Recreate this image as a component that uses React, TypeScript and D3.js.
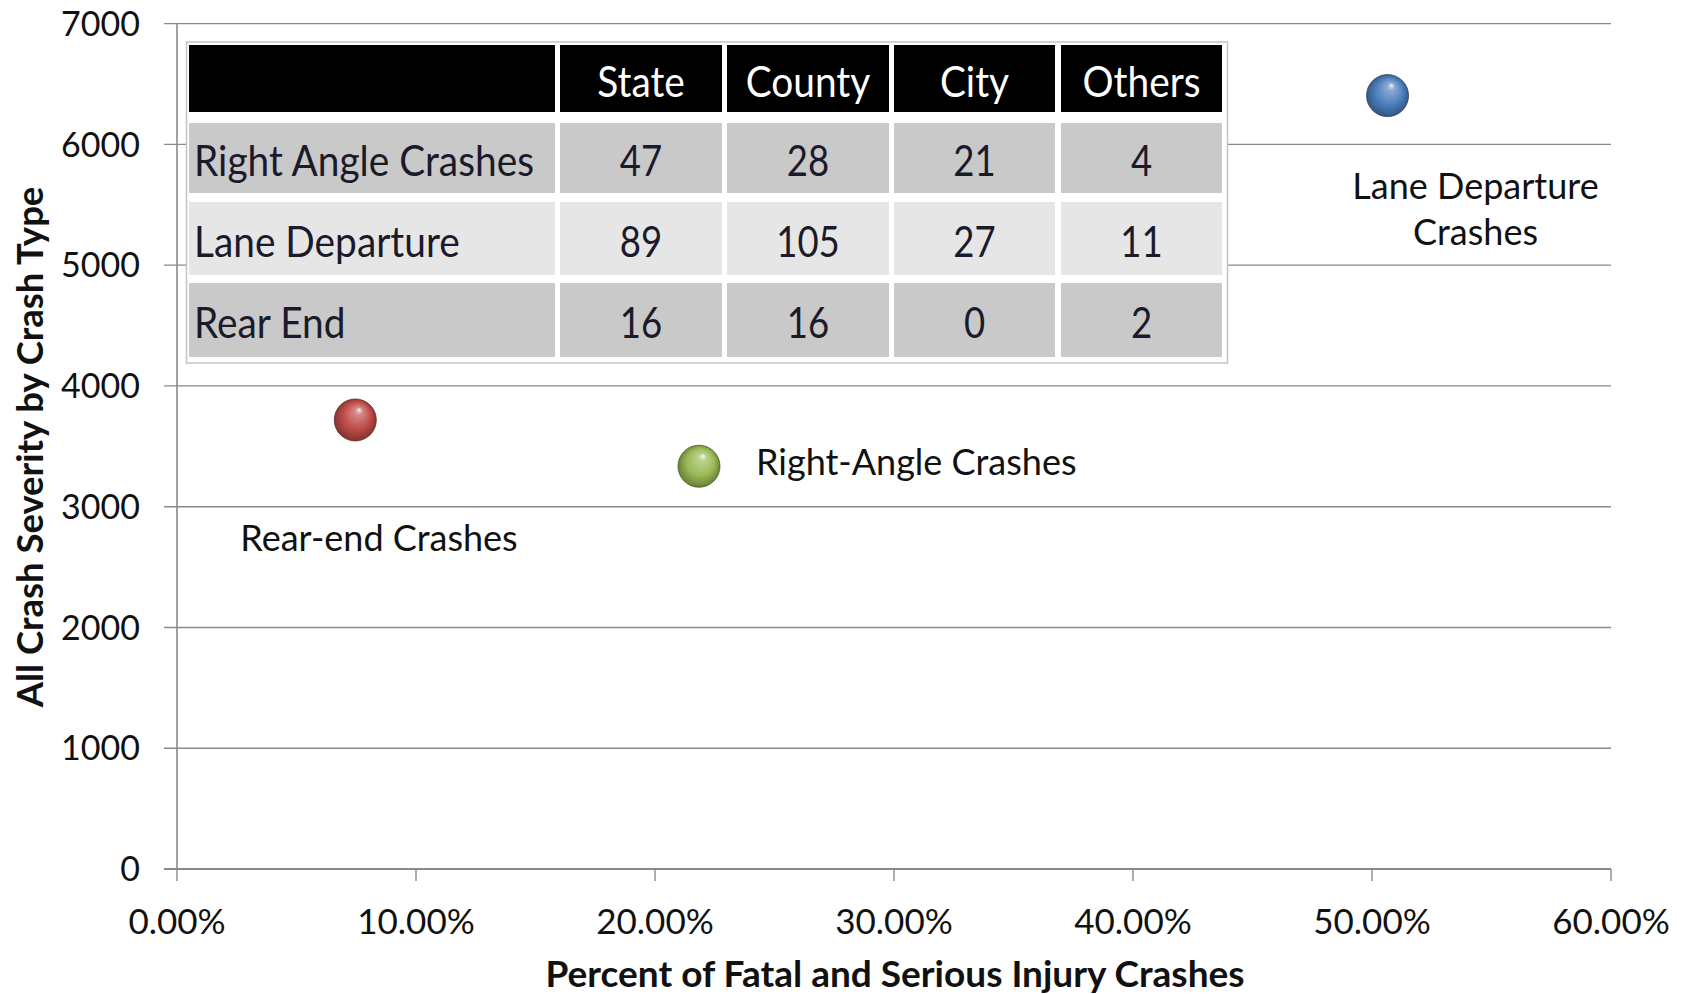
import React from "react";
import * as d3 from "d3";

// ---------- data ----------
const seriesNames = ["Lane Departure Crashes", "Rear-end Crashes", "Right-Angle Crashes"];
const xPercent = [0.5065, 0.0746, 0.2184];
const yCount = [6404, 3718, 3335];
const seriesColors = ["#4a7ebb", "#be4b48", "#98b954"];

const yTicks = [0, 1000, 2000, 3000, 4000, 5000, 6000, 7000];
const xTicks = [0, 0.1, 0.2, 0.3, 0.4, 0.5, 0.6];

const tableHeaders = ["", "State", "County", "City", "Others"];
const tableRows = ["Right Angle Crashes", "Lane Departure", "Rear End"];
const stateVals = [47, 89, 16];
const countyVals = [28, 105, 16];
const cityVals = [21, 27, 0];
const othersVals = [4, 11, 2];

const xTitle = "Percent of Fatal and Serious Injury Crashes";
const yTitle = "All Crash Severity by Crash Type";

// ---------- layout ----------
const W = 1684;
const H = 994;
const plot = { left: 177, right: 1611, top: 23.6, bottom: 869 };
const FONT = "Lato, 'Open Sans', sans-serif";
const GRID = "#8a8a8a";

const x = d3.scaleLinear().domain([0, 0.6]).range([plot.left, plot.right]);
const y = d3.scaleLinear().domain([0, 7000]).range([plot.bottom, plot.top]);
const fmtPct = d3.format(".2%");

// table geometry
const tbl = { left: 186.5, top: 42, right: 1227.5, bottom: 363 };
const colEdges = [
  [189, 555],
  [560, 722],
  [727, 889],
  [894, 1055],
  [1061, 1222],
];
const rowEdges = [
  [45, 112],
  [123, 193],
  [202, 275],
  [283, 357],
];
const rowFills = ["#000000", "#c9c9c9", "#e6e6e6", "#c9c9c9"];

// label placement (relative to point, in px)
const labelSpec = [
  { lines: ["Lane Departure", "Crashes"], dx: 88, dy: 90, anchor: "middle" },
  { lines: ["Rear-end Crashes"], dx: -115, dy: 118, anchor: "start" },
  { lines: ["Right-Angle Crashes"], dx: 57, dy: -4, anchor: "start" },
];

export default function App() {
  const tableCols = [stateVals, countyVals, cityVals, othersVals];
  const sxText = 0.925;
  const sxNum = 0.87;
  const tFont = 42;
  return (
    <svg
      width={W}
      height={H}
      style={{ position: "absolute", left: 0, top: 0, background: "#fff" }}
      fontFamily={FONT}
    >
      <defs>
        {seriesColors.map((c, i) => {
          const col = d3.color(c)!;
          return (
            <radialGradient key={i} id={`ball${i}`} cx="0.5" cy="0.5" r="0.55" fx="0.6" fy="0.25">
              <stop offset="0%" stopColor={d3.interpolateRgb(c, "#ffffff")(0.9)} />
              <stop offset="16%" stopColor={d3.interpolateRgb(c, "#ffffff")(0.35)} />
              <stop offset="60%" stopColor={c} />
              <stop offset="100%" stopColor={col.darker(1.3).formatHex()} />
            </radialGradient>
          );
        })}
      </defs>

      {/* grid lines */}
      {yTicks.map((t) => (
        <line
          key={`g${t}`}
          x1={plot.left - 13}
          x2={plot.right}
          y1={y(t)}
          y2={y(t)}
          stroke={GRID}
          strokeWidth={t === 0 ? 2.2 : 1.4}
        />
      ))}
      {/* y axis */}
      <line x1={plot.left} x2={plot.left} y1={plot.top} y2={plot.bottom} stroke={GRID} strokeWidth={1.6} />
      {/* x ticks */}
      {xTicks.map((t) => (
        <line key={`xt${t}`} x1={x(t)} x2={x(t)} y1={plot.bottom} y2={plot.bottom + 12} stroke={GRID} strokeWidth={1.4} />
      ))}

      {/* y tick labels */}
      {yTicks.map((t) => (
        <text key={`yl${t}`} x={140} y={y(t)} dy="0.36em" textAnchor="end" fontSize={34} fill="#111">
          {t}
        </text>
      ))}
      {/* x tick labels */}
      {xTicks.map((t) => (
        <text key={`xl${t}`} x={x(t)} y={921} dy="0.36em" textAnchor="middle" fontSize={35} fill="#111">
          {fmtPct(t)}
        </text>
      ))}

      {/* axis titles */}
      <text x={895} y={987} textAnchor="middle" fontSize={37} fontWeight={700} fill="#111">
        {xTitle}
      </text>
      <text
        transform={`translate(43, 447) rotate(-90)`}
        textAnchor="middle"
        fontSize={36.5}
        fontWeight={700}
        fill="#111"
      >
        {yTitle}
      </text>

      {/* table */}
      <rect
        x={tbl.left}
        y={tbl.top}
        width={tbl.right - tbl.left}
        height={tbl.bottom - tbl.top}
        fill="#ffffff"
        stroke="#c4c4c4"
        strokeWidth={1.5}
      />
      {rowEdges.map((r, ri) =>
        colEdges.map((c, ci) => (
          <rect
            key={`c${ri}-${ci}`}
            x={c[0]}
            y={r[0]}
            width={c[1] - c[0]}
            height={r[1] - r[0]}
            fill={rowFills[ri]}
          />
        ))
      )}
      {tableHeaders.map((h, ci) =>
        h ? (
          <text
            key={`h${ci}`}
            transform={`translate(${(colEdges[ci][0] + colEdges[ci][1]) / 2}, ${(rowEdges[0][0] + rowEdges[0][1]) / 2 + 18}) scale(${sxText},1)`}
            textAnchor="middle"
            fontSize={tFont}
            fill="#ffffff"
          >
            {h}
          </text>
        ) : null
      )}
      {tableRows.map((rname, ri) => {
        const r = rowEdges[ri + 1];
        const cy = (r[0] + r[1]) / 2 + 18;
        return (
          <g key={`r${ri}`}>
            <text
              transform={`translate(${colEdges[0][0] + 5}, ${cy}) scale(${sxText},1)`}
              fontSize={tFont}
              fill="#1a1a2a"
            >
              {rname}
            </text>
            {tableCols.map((vals, ci) => (
              <text
                key={`v${ci}`}
                transform={`translate(${(colEdges[ci + 1][0] + colEdges[ci + 1][1]) / 2}, ${cy}) scale(${sxNum},1)`}
                textAnchor="middle"
                fontSize={tFont}
                fill="#1a1a2a"
              >
                {vals[ri]}
              </text>
            ))}
          </g>
        );
      })}

      {/* points */}
      {seriesNames.map((name, i) => (
        <g key={name}>
          <circle
            cx={x(xPercent[i])}
            cy={y(yCount[i])}
            r={21}
            fill={`url(#ball${i})`}
            stroke={d3.color(seriesColors[i])!.darker(2).formatHex()}
            strokeWidth={0.8}
          />
          <text
            x={x(xPercent[i]) + labelSpec[i].dx}
            y={y(yCount[i]) + labelSpec[i].dy}
            textAnchor={labelSpec[i].anchor as any}
            fontSize={36}
            fill="#111"
          >
            {labelSpec[i].lines.map((ln, k) => (
              <tspan key={k} x={x(xPercent[i]) + labelSpec[i].dx} dy={k === 0 ? "0.36em" : "1.3em"}>
                {ln}
              </tspan>
            ))}
          </text>
        </g>
      ))}
    </svg>
  );
}
